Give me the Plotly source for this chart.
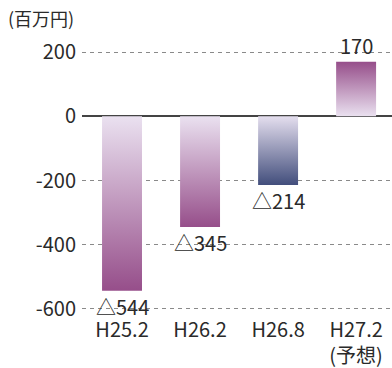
import plotly.graph_objects as go

categories = ["H25.2", "H26.2", "H26.8", "H27.2<br>(予想)"]
values = [-544, -345, -214, 170]
tick_vals = [200, 0, -200, -400, -600]
unit_label = "(百万円)"

purple_dark = "rgb(150,78,138)"
purple_light = "rgb(234,225,240)"
navy_dark = "rgb(66,78,124)"
navy_light = "rgb(228,222,238)"
bar_colors = [(purple_dark, purple_light), (purple_dark, purple_light),
              (navy_dark, navy_light), (purple_dark, purple_light)]

FONT = "Noto Sans CJK JP"
TEXT = "#2a2a2a"
FS = 20
half_w = 0.256

fig = go.Figure()
for i, (v, (dark, light)) in enumerate(zip(values, bar_colors)):
    xs = [i - half_w, i + half_w, i + half_w, i - half_w, i - half_w]
    ys = [0, 0, v, v, 0]
    if v < 0:
        cs = [[0, dark], [1, light]]
    else:
        cs = [[0, light], [1, dark]]
    fig.add_trace(go.Scatter(
        x=xs, y=ys, mode="lines", fill="toself",
        line=dict(width=0, color="rgba(0,0,0,0)"),
        fillgradient=dict(type="vertical", colorscale=cs),
        hoverinfo="skip", showlegend=False,
    ))
    label = ("△" + str(abs(v))) if v < 0 else str(v)
    fig.add_annotation(
        x=i, y=v, text=label, showarrow=False,
        yanchor="top" if v < 0 else "bottom",
        yshift=0 if v < 0 else 1, borderpad=0,
        font=dict(family=FONT, size=FS, color=TEXT),
    )

fig.add_annotation(
    x=0, xref="paper", xanchor="left", xshift=-76,
    y=1, yref="paper", yanchor="middle", yshift=31,
    text=unit_label, showarrow=False,
    font=dict(family=FONT, size=18, color=TEXT),
)

fig.update_layout(
    width=392, height=368,
    margin=dict(l=82, r=0, t=49, b=56),
    paper_bgcolor="white", plot_bgcolor="white",
    font=dict(family=FONT, size=FS, color=TEXT),
    xaxis=dict(
        range=[-0.513, 3.46], tickmode="array",
        tickvals=list(range(len(categories))), ticktext=categories,
        showgrid=False, zeroline=False, showline=False, ticks="",
        ticklabelstandoff=4, automargin=False,
        tickfont=dict(family=FONT, size=FS, color=TEXT),
    ),
    yaxis=dict(
        range=[-610, 210], tickmode="array", tickvals=tick_vals,
        ticktext=[str(t) for t in tick_vals],
        showgrid=True, gridcolor="#8a8a8a", griddash="4px,4px", gridwidth=1,
        zeroline=True, zerolinecolor="#444444", zerolinewidth=1.5,
        showline=False, ticks="", ticklabelstandoff=5, automargin=False,
        tickfont=dict(family=FONT, size=FS, color=TEXT),
    ),
)

fig.write_html("out.html")
